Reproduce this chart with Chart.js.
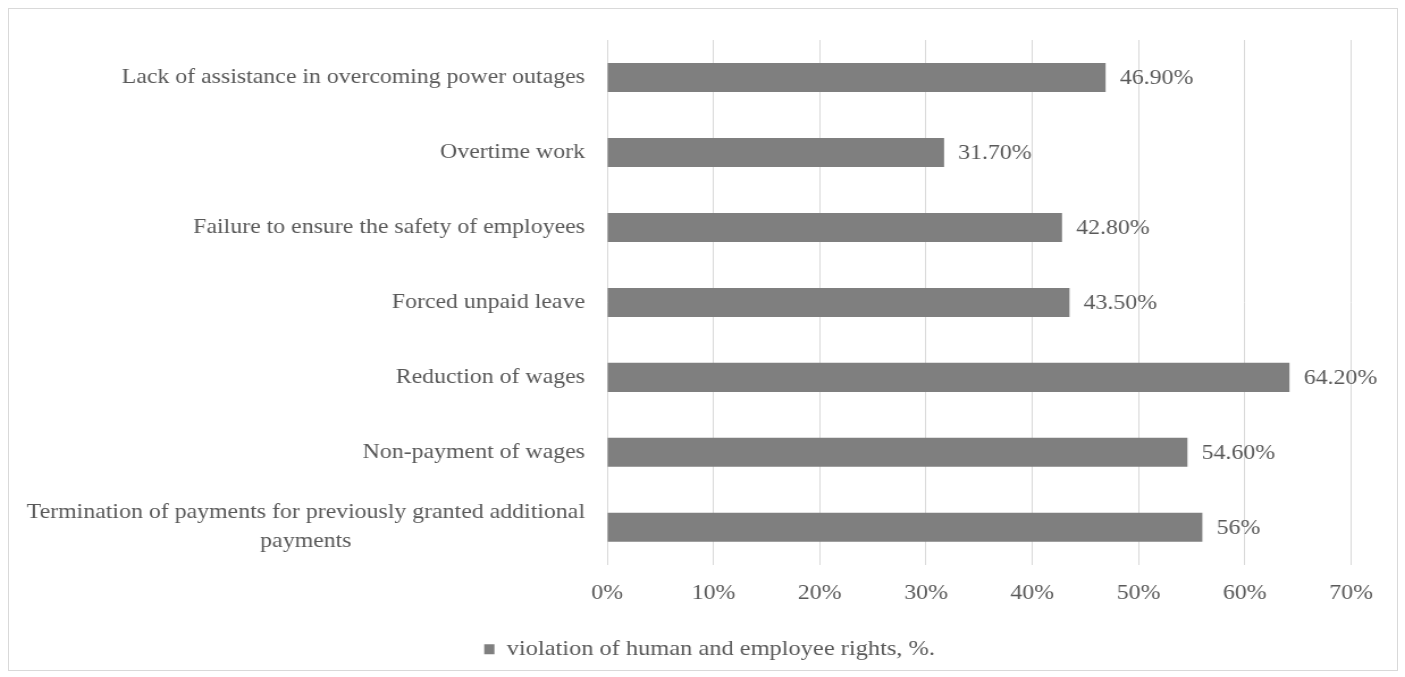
<!DOCTYPE html>
<html>
<head>
<meta charset="utf-8">
<script src="https://cdn.jsdelivr.net/npm/chart.js@4.4.1/dist/chart.umd.min.js"></script>
<style>
  html, body { margin: 0; padding: 0; background: #fff; }
  #frame {
    position: absolute; left: 8px; top: 8px; width: 1390px; height: 663px;
    border: 1px solid #d9d9d9; box-sizing: border-box; background: #fff; overflow: hidden;
  }
  /* the chart is drawn a bit narrower and stretched sideways, like the wide serif text */
  #wrap {
    position: absolute; left: 0; top: 0; width: 1223px; height: 661px;
    transform: scaleX(1.135); transform-origin: 0 0;
  }
  #chart { display: block; }
</style>
</head>
<body>
<div id="frame"><div id="wrap"><canvas id="chart"></canvas></div></div>
<script>
// categories, top to bottom
const categories = [
  'Lack of assistance in overcoming power outages',
  'Overtime work',
  'Failure to ensure the safety of employees',
  'Forced unpaid leave',
  'Reduction of wages',
  'Non-payment of wages',
  ['Termination of payments for previously granted additional', 'payments']
];
const violations = [46.9, 31.7, 42.8, 43.5, 64.2, 54.6, 56];
const seriesName = 'violation of human and employee rights, %.';
const xTicks = [0, 10, 20, 30, 40, 50, 60, 70];

const serif = '"Liberation Serif", "Times New Roman", serif';
const textGrey = '#595959';
const barGrey = '#7f7f7f';
const gridGrey = '#d9d9d9';

const fmtValue = v => (Number.isInteger(v) ? v : v.toFixed(2)) + '%';

// category labels: block right-aligned to the axis, lines centred inside the block
const catLabels = {
  id: 'catLabels',
  afterDraw(chart) {
    const { ctx, chartArea, scales } = chart;
    const right = chartArea.left - 19.5;
    const lh = 29;
    ctx.save();
    ctx.font = '21px ' + serif;
    ctx.fillStyle = textGrey;
    ctx.textAlign = 'center';
    ctx.textBaseline = 'middle';
    categories.forEach((c, i) => {
      const lines = Array.isArray(c) ? c : [c];
      const w = Math.max(...lines.map(l => ctx.measureText(l).width));
      const cx = right - w / 2;
      const y0 = scales.y.getPixelForValue(i) - (lines.length - 1) * lh / 2;
      lines.forEach((l, k) => ctx.fillText(l, cx, y0 + k * lh));
    });
    ctx.restore();
  }
};

// value labels at the end of each bar
const valueLabels = {
  id: 'valueLabels',
  afterDatasetsDraw(chart) {
    const { ctx } = chart;
    const meta = chart.getDatasetMeta(0);
    ctx.save();
    ctx.font = '21px ' + serif;
    ctx.fillStyle = textGrey;
    ctx.textAlign = 'left';
    ctx.textBaseline = 'middle';
    meta.data.forEach((bar, i) => {
      ctx.fillText(fmtValue(violations[i]), bar.x + 12.5, bar.y + 1);
    });
    ctx.restore();
  }
};

// nudge the legend a little to the right of the canvas centre
const legendShift = {
  id: 'legendShift',
  afterLayout(chart) {
    chart.legend.left += 26;
    chart.legend.right += 26;
  }
};

new Chart(document.getElementById('chart'), {
  type: 'bar',
  data: {
    labels: categories,
    datasets: [{
      label: seriesName,
      data: violations,
      backgroundColor: barGrey,
      borderWidth: 0,
      categoryPercentage: 1,
      barPercentage: 0.387
    }]
  },
  options: {
    indexAxis: 'y',
    responsive: true,
    maintainAspectRatio: false,
    animation: false,
    layout: { padding: { left: 0, right: 40.5, top: 31, bottom: 0 } },
    scales: {
      x: {
        min: 0, max: 70,
        afterBuildTicks: s => { s.ticks = xTicks.map(v => ({ value: v })); },
        afterFit: s => { s.height += 5.5; },
        grid: { color: gridGrey, lineWidth: 1, drawTicks: false },
        border: { display: false },
        ticks: {
          color: textGrey,
          font: { family: serif, size: 21 },
          padding: 16.5,
          callback: v => v + '%'
        }
      },
      y: {
        grid: { display: false },
        border: { display: false },
        ticks: { display: false },
        afterFit: s => { s.width = 527; }
      }
    },
    plugins: {
      legend: {
        position: 'bottom',
        labels: {
          color: textGrey,
          font: { family: serif, size: 21.5 },
          boxWidth: 9,
          boxHeight: 10,
          padding: 10
        }
      },
      tooltip: { enabled: false }
    }
  },
  plugins: [catLabels, valueLabels, legendShift]
});
</script>
</body>
</html>
